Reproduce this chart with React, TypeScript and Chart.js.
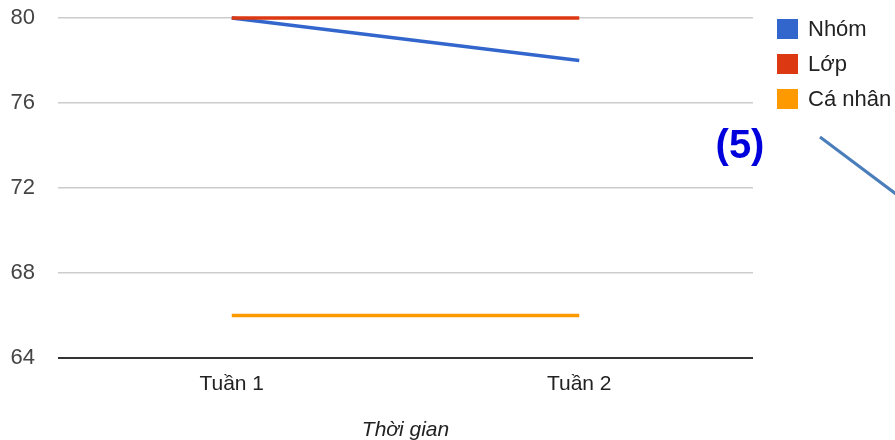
import React, { useEffect, useRef } from "react";
import { Chart, registerables } from "chart.js";

Chart.register(...registerables);

const categories = ["Tuần 1", "Tuần 2"];
const nhom = [80, 78];
const lop = [80, 80];
const caNhan = [66, 66];
const yMin = 64;
const yMax = 80;
const yStep = 4;
const seriesNames = ["Nhóm", "Lớp", "Cá nhân"];
const seriesColors = ["#3366cc", "#dc3912", "#ff9900"];
const xTitle = "Thời gian";
const note = "(5)";

const FONT = "'Liberation Sans', Arial, sans-serif";

const legendPlugin = {
  id: "customLegend",
  afterDraw(chart: any) {
    const ctx = chart.ctx;
    ctx.save();
    const ds = chart.data.datasets;
    ds.forEach((d: any, i: number) => {
      const cy = 29 + i * 35;
      ctx.fillStyle = d.borderColor;
      ctx.fillRect(777, cy - 10, 21, 20);
      ctx.fillStyle = "#222";
      ctx.font = `22px ${FONT}`;
      ctx.textBaseline = "middle";
      ctx.textAlign = "left";
      ctx.fillText(d.label, 808, cy + 1);
    });
    // annotation
    ctx.fillStyle = "#0000dd";
    ctx.font = `bold 40px ${FONT}`;
    ctx.textAlign = "center";
    ctx.textBaseline = "middle";
    ctx.fillText(note, 740, 147);
    ctx.strokeStyle = "#4a7ebb";
    ctx.lineWidth = 3;
    ctx.beginPath();
    ctx.moveTo(820, 137);
    ctx.lineTo(900, 197);
    ctx.stroke();
    ctx.restore();
  },
};

export default function App() {
  const ref = useRef<HTMLCanvasElement>(null);
  useEffect(() => {
    if (!ref.current) return;
    const chart = new Chart(ref.current, {
      type: "line",
      data: {
        labels: categories,
        datasets: [
          { label: seriesNames[0], data: nhom, borderColor: seriesColors[0], backgroundColor: seriesColors[0], borderWidth: 3.5, pointRadius: 0, order: 2, clip: false },
          { label: seriesNames[1], data: lop, borderColor: seriesColors[1], backgroundColor: seriesColors[1], borderWidth: 3.5, pointRadius: 0, order: 1, clip: false },
          { label: seriesNames[2], data: caNhan, borderColor: seriesColors[2], backgroundColor: seriesColors[2], borderWidth: 3.5, pointRadius: 0, order: 3, clip: false },
        ] as any,
      },
      options: {
        responsive: false,
        animation: false,
        layout: { padding: { top: 18, right: 142, left: 0, bottom: -3 } },
        plugins: { legend: { display: false }, tooltip: { enabled: false } },
        scales: {
          x: {
            offset: true,
            grid: { display: false, drawTicks: false },
            border: { display: false },
            ticks: { font: { family: FONT, size: 21 }, color: "#222", padding: 14, maxRotation: 0 },
            title: { display: true, text: xTitle, font: { family: FONT, size: 21, style: "italic" }, color: "#222", padding: { top: 0, bottom: 0 } },
            afterFit: (s: any) => { s.height = 85; s.paddingLeft = 0; s.paddingRight = 0; },
          },
          y: {
            min: yMin,
            max: yMax,
            ticks: { stepSize: yStep, font: { family: FONT, size: 22 }, color: "#444", padding: 23 },
            grid: {
              drawTicks: false,
              color: (c: any) => (c.tick && c.tick.value === yMin ? "#333" : "#cccccc"),
              lineWidth: (c: any) => (c.tick && c.tick.value === yMin ? 2 : 1.5),
            },
            border: { display: false },
            afterFit: (s: any) => { s.width = 58; s.paddingTop = 0; s.paddingBottom = 0; },
          },
        },
      },
      plugins: [legendPlugin],
    });
    return () => chart.destroy();
  }, []);
  return (
    <div style={{ position: "fixed", left: 0, top: 0, width: 895, height: 440, background: "#fff" }}>
      <canvas ref={ref} width={895} height={440} style={{ width: 895, height: 440 }} />
    </div>
  );
}
